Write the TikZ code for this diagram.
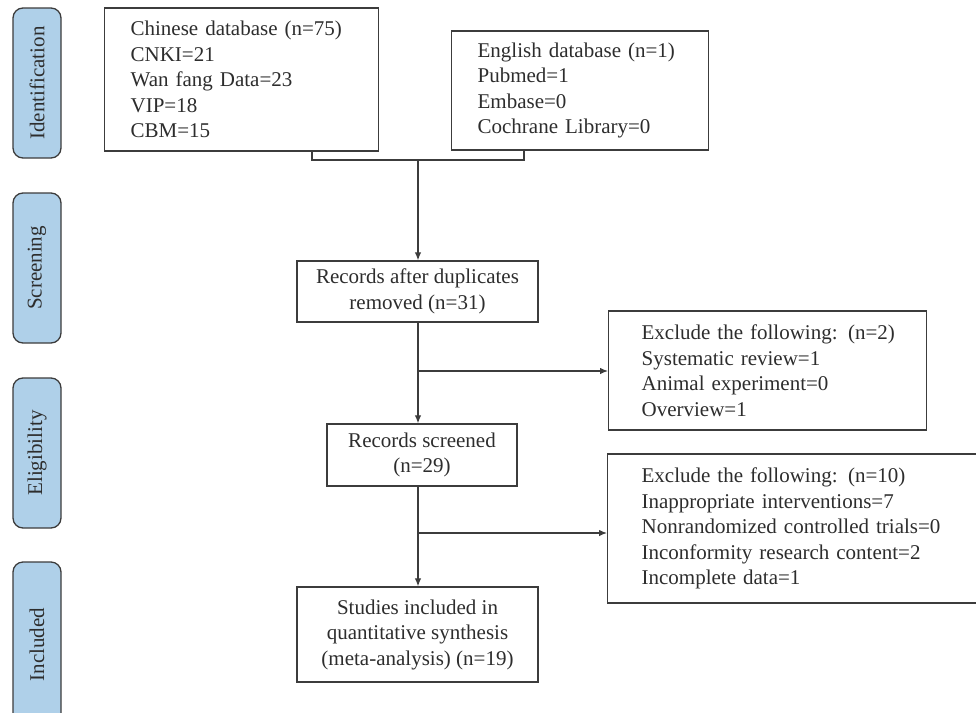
\documentclass[tikz,border=0pt]{standalone}
\usepackage{fontspec}
\setmainfont{Liberation Serif}
\usetikzlibrary{arrows.meta}
\definecolor{phasefill}{RGB}{175,208,233}
\definecolor{ink}{RGB}{45,45,45}
\definecolor{edge}{RGB}{60,60,60}
\hfuzz=20pt
\tikzset{
  txt/.style={font=\fontsize{21}{25.5}\selectfont, text=ink},
  phase/.style={txt, draw=edge, line width=1.3pt, fill=phasefill, rounded corners=10pt,
    rotate=90, minimum width=150pt, minimum height=48pt, inner sep=0pt},
  listbox/.style={txt, draw=edge, line width=1.3pt, align=left, inner ysep=0pt, anchor=west},
  centbox/.style={txt, draw=edge, line width=1.3pt, align=center, inner sep=0pt},
  conn/.style={draw=edge, line width=1.2pt},
  arr/.style={conn, -{Latex[length=8pt,width=6.5pt]}}
}
\begin{document}
\begin{tikzpicture}[x=1pt,y=-1pt]
\useasboundingbox (0,0) rectangle (976,712);
% phase labels
\node[phase] (id) at (37,83) {Identification};
\node[phase] (sc) at (37,268) {Screening};
\node[phase] (el) at (37,453) {Eligibility};
\node[phase, minimum width=165pt] (in) at (37,644.5) {Included};
% identification boxes
\node[listbox, inner xsep=26pt, text width=222pt, minimum height=143pt] (chi) at (104,79.5)
  {Chinese database (n=75)\\CNKI=21\\Wan fang Data=23\\VIP=18\\CBM=15};
\node[listbox, inner xsep=26pt, text width=205pt, minimum height=119pt] (eng) at (451,90.5)
  {English database (n=1)\\Pubmed=1\\Embase=0\\Cochrane Library=0};
% flow boxes
\node[centbox, minimum width=241pt, minimum height=61pt] (dup) at (417.5,291.5)
  {Records after duplicates\\removed (n=31)};
\node[centbox, minimum width=190pt, minimum height=62pt] (scr) at (422,455)
  {Records screened\\(n=29)};
\node[centbox, minimum width=241pt, minimum height=95pt] (stu) at (417.5,634.5)
  {Studies included in\\quantitative synthesis\\(meta-analysis) (n=19)};
% exclusion boxes
\node[listbox, inner xsep=33pt, text width=252pt, minimum height=119pt] (ex1) at (608,370.5)
  {\mbox{Exclude the following: (n=2)}\\Systematic review=1\\Animal experiment=0\\Overview=1};
\node[listbox, inner xsep=34pt, text width=320pt, minimum height=149pt] (ex2) at (607,528.5)
  {Exclude the following: (n=10)\\Inappropriate interventions=7\\Nonrandomized controlled trials=0\\Inconformity research content=2\\Incomplete data=1};
% connectors
\coordinate (j1) at (312,160);
\coordinate (j2) at (524,160);
\coordinate (jm) at (418,160);
\coordinate (b1) at (418,371);
\coordinate (b2) at (418,533);
\draw[conn] (j1 |- chi.south) -- (j1) -- (j2) -- (j2 |- eng.south);
\draw[arr] (jm) -- (jm |- dup.north);
\draw[arr] (jm |- dup.south) -- (jm |- scr.north);
\draw[arr] (b1) -- (b1 -| ex1.west);
\draw[arr] (jm |- scr.south) -- (jm |- stu.north);
\draw[arr] (b2) -- (b2 -| ex2.west);
\end{tikzpicture}
\end{document}
